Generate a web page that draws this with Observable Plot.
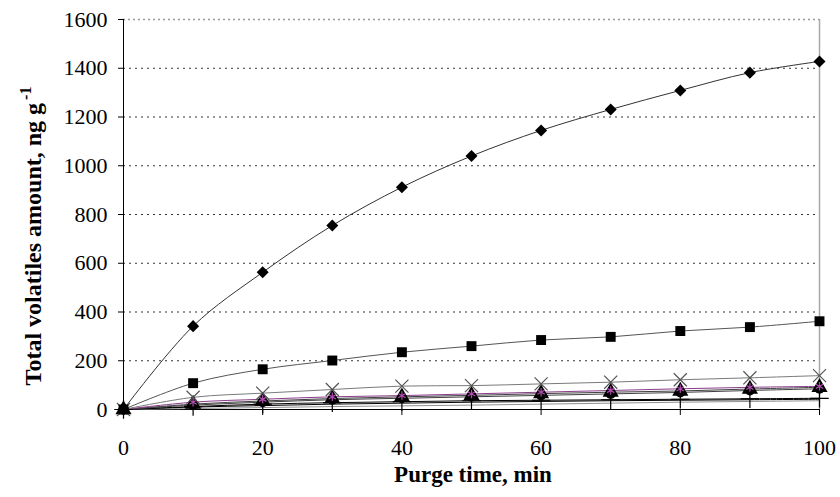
<!DOCTYPE html>
<html>
<head>
<meta charset="utf-8">
<script src="https://cdn.jsdelivr.net/npm/d3@7"></script>
<script src="https://cdn.jsdelivr.net/npm/@observablehq/plot@0.6"></script>
<style>
  html, body { margin: 0; padding: 0; background: #fff; }
</style>
</head>
<body>
<div id="chart"></div>
<script>
const purgeTime = [0, 10, 20, 30, 40, 50, 60, 70, 80, 90, 100];
const diamondSeries = [0, 342, 563, 755, 912, 1040, 1145, 1231, 1309, 1382, 1428];
const squareSeries  = [0, 108, 165, 201, 235, 260, 285, 298, 322, 338, 362];
const crossSeries   = [0, 50, 67, 82, 96, 98, 105, 112, 122, 130, 139];
const starSeries    = [0, 30, 42, 52, 57, 64, 71, 78, 85, 91, 95];
const triangleSeries= [0, 22, 35, 45, 52, 58, 65, 71, 76, 84, 91];
const circleSeries  = [0, 18, 30, 40, 46, 52, 58, 64, 70, 78, 85];
const plusSeries    = [0, 12, 22, 28, 32, 36, 38, 40, 42, 44, 46];
const blackLine     = [0, 10, 16, 22, 26, 30, 33, 36, 38, 40, 42];
const grayLine      = [0, 4, 8, 12, 15, 18, 22, 26, 30, 33, 36];
const yTicks = [0, 200, 400, 600, 800, 1000, 1200, 1400, 1600];
const xTicks = [0, 20, 40, 60, 80, 100];

const FONT = "'Liberation Serif', 'Times New Roman', serif";

const series = [
  {name: "gray", values: grayLine, line: "#909090", symbol: null},
  {name: "black", values: blackLine, line: "#000000", symbol: null},
  {name: "plus", values: plusSeries, line: "#000000", symbol: "plus", fill: "none", stroke: "#000", r: 6},
  {name: "circle", values: circleSeries, line: "#404040", symbol: "circle", fill: "#000", stroke: "none", r: 5},
  {name: "triangle", values: triangleSeries, line: "#404040", symbol: "triangle", fill: "#000", stroke: "none", r: 6},
  {name: "star", values: starSeries, line: "#8a3c8a", symbol: "asterisk", fill: "none", stroke: "#b04cb0", r: 4},
  {name: "cross", values: crossSeries, line: "#7a7a7a", symbol: "times", fill: "none", stroke: "#555", r: 6},
  {name: "square", values: squareSeries, line: "#555555", symbol: "square", fill: "#000", stroke: "none", r: 5.6},
  {name: "diamond", values: diamondSeries, line: "#333333", symbol: "square", fill: "#000", stroke: "none", r: 4.8, rotate: 45}
];

const rows = series.flatMap(s => purgeTime.map((t, i) => ({series: s.name, t, v: s.values[i]})));

const marks = [
  Plot.gridY(yTicks.filter(d => d > 0 && d < 1600), {stroke: "#000", strokeOpacity: 0.8, strokeDasharray: "2,4", strokeWidth: 1}),
  Plot.gridY([1600], {stroke: "#999", strokeOpacity: 1, strokeDasharray: "2,3", strokeWidth: 1.5}),
  Plot.ruleX([100], {stroke: "#a8a8a8", strokeWidth: 1.5}),
  Plot.axisY({ticks: yTicks, tickSize: 5, tickPadding: 11, fontSize: 22, tickFormat: d => String(d), label: null}),
  Plot.axisX({ticks: xTicks, tickSize: 6, tickPadding: 24, fontSize: 22, tickFormat: d => String(d), label: null}),
  Plot.ruleY([0], {stroke: "#000", strokeWidth: 1}),
  Plot.ruleX([0], {stroke: "#000", strokeWidth: 1})
];
for (const s of series) {
  const data = rows.filter(r => r.series === s.name);
  marks.push(Plot.line(data, {x: "t", y: "v", stroke: s.line, strokeWidth: 1, curve: "catmull-rom"}));
}
for (const s of series) {
  if (!s.symbol) continue;
  const data = rows.filter(r => r.series === s.name);
  marks.push(Plot.dot(data, {x: "t", y: "v", symbol: () => s.symbol, r: s.r, rotate: s.rotate || 0, fill: s.fill, stroke: s.stroke, strokeWidth: 1.2}));
}

const chart = Plot.plot({
  width: 840,
  height: 497,
  marginLeft: 123,
  marginRight: 21,
  marginTop: 19,
  marginBottom: 88,
  x: {domain: [0, 100]},
  y: {domain: [0, 1600]},
  symbol: {type: "identity"},
  style: {fontFamily: FONT, color: "#000", background: "#fff", overflow: "visible"},
  marks
});

const svg = d3.select(chart);
svg.attr("font-family", FONT);
svg.selectAll("text").attr("font-family", FONT).attr("fill", "#000");

svg.append("text")
  .attr("x", 473).attr("y", 482)
  .attr("text-anchor", "middle")
  .attr("font-family", FONT)
  .attr("font-weight", "bold")
  .attr("font-size", 23)
  .attr("fill", "#000")
  .text("Purge time, min");

const yt = svg.append("text")
  .attr("transform", "translate(41,236) rotate(-90)")
  .attr("text-anchor", "middle")
  .attr("font-family", FONT)
  .attr("font-weight", "bold")
  .attr("font-size", 24)
  .attr("fill", "#000");
yt.append("tspan").text("Total volatiles amount, ng g");
yt.append("tspan").attr("dy", -10).attr("dx", 3).attr("font-size", 16).text("-1");

document.getElementById("chart").appendChild(chart);
</script>
</body>
</html>
